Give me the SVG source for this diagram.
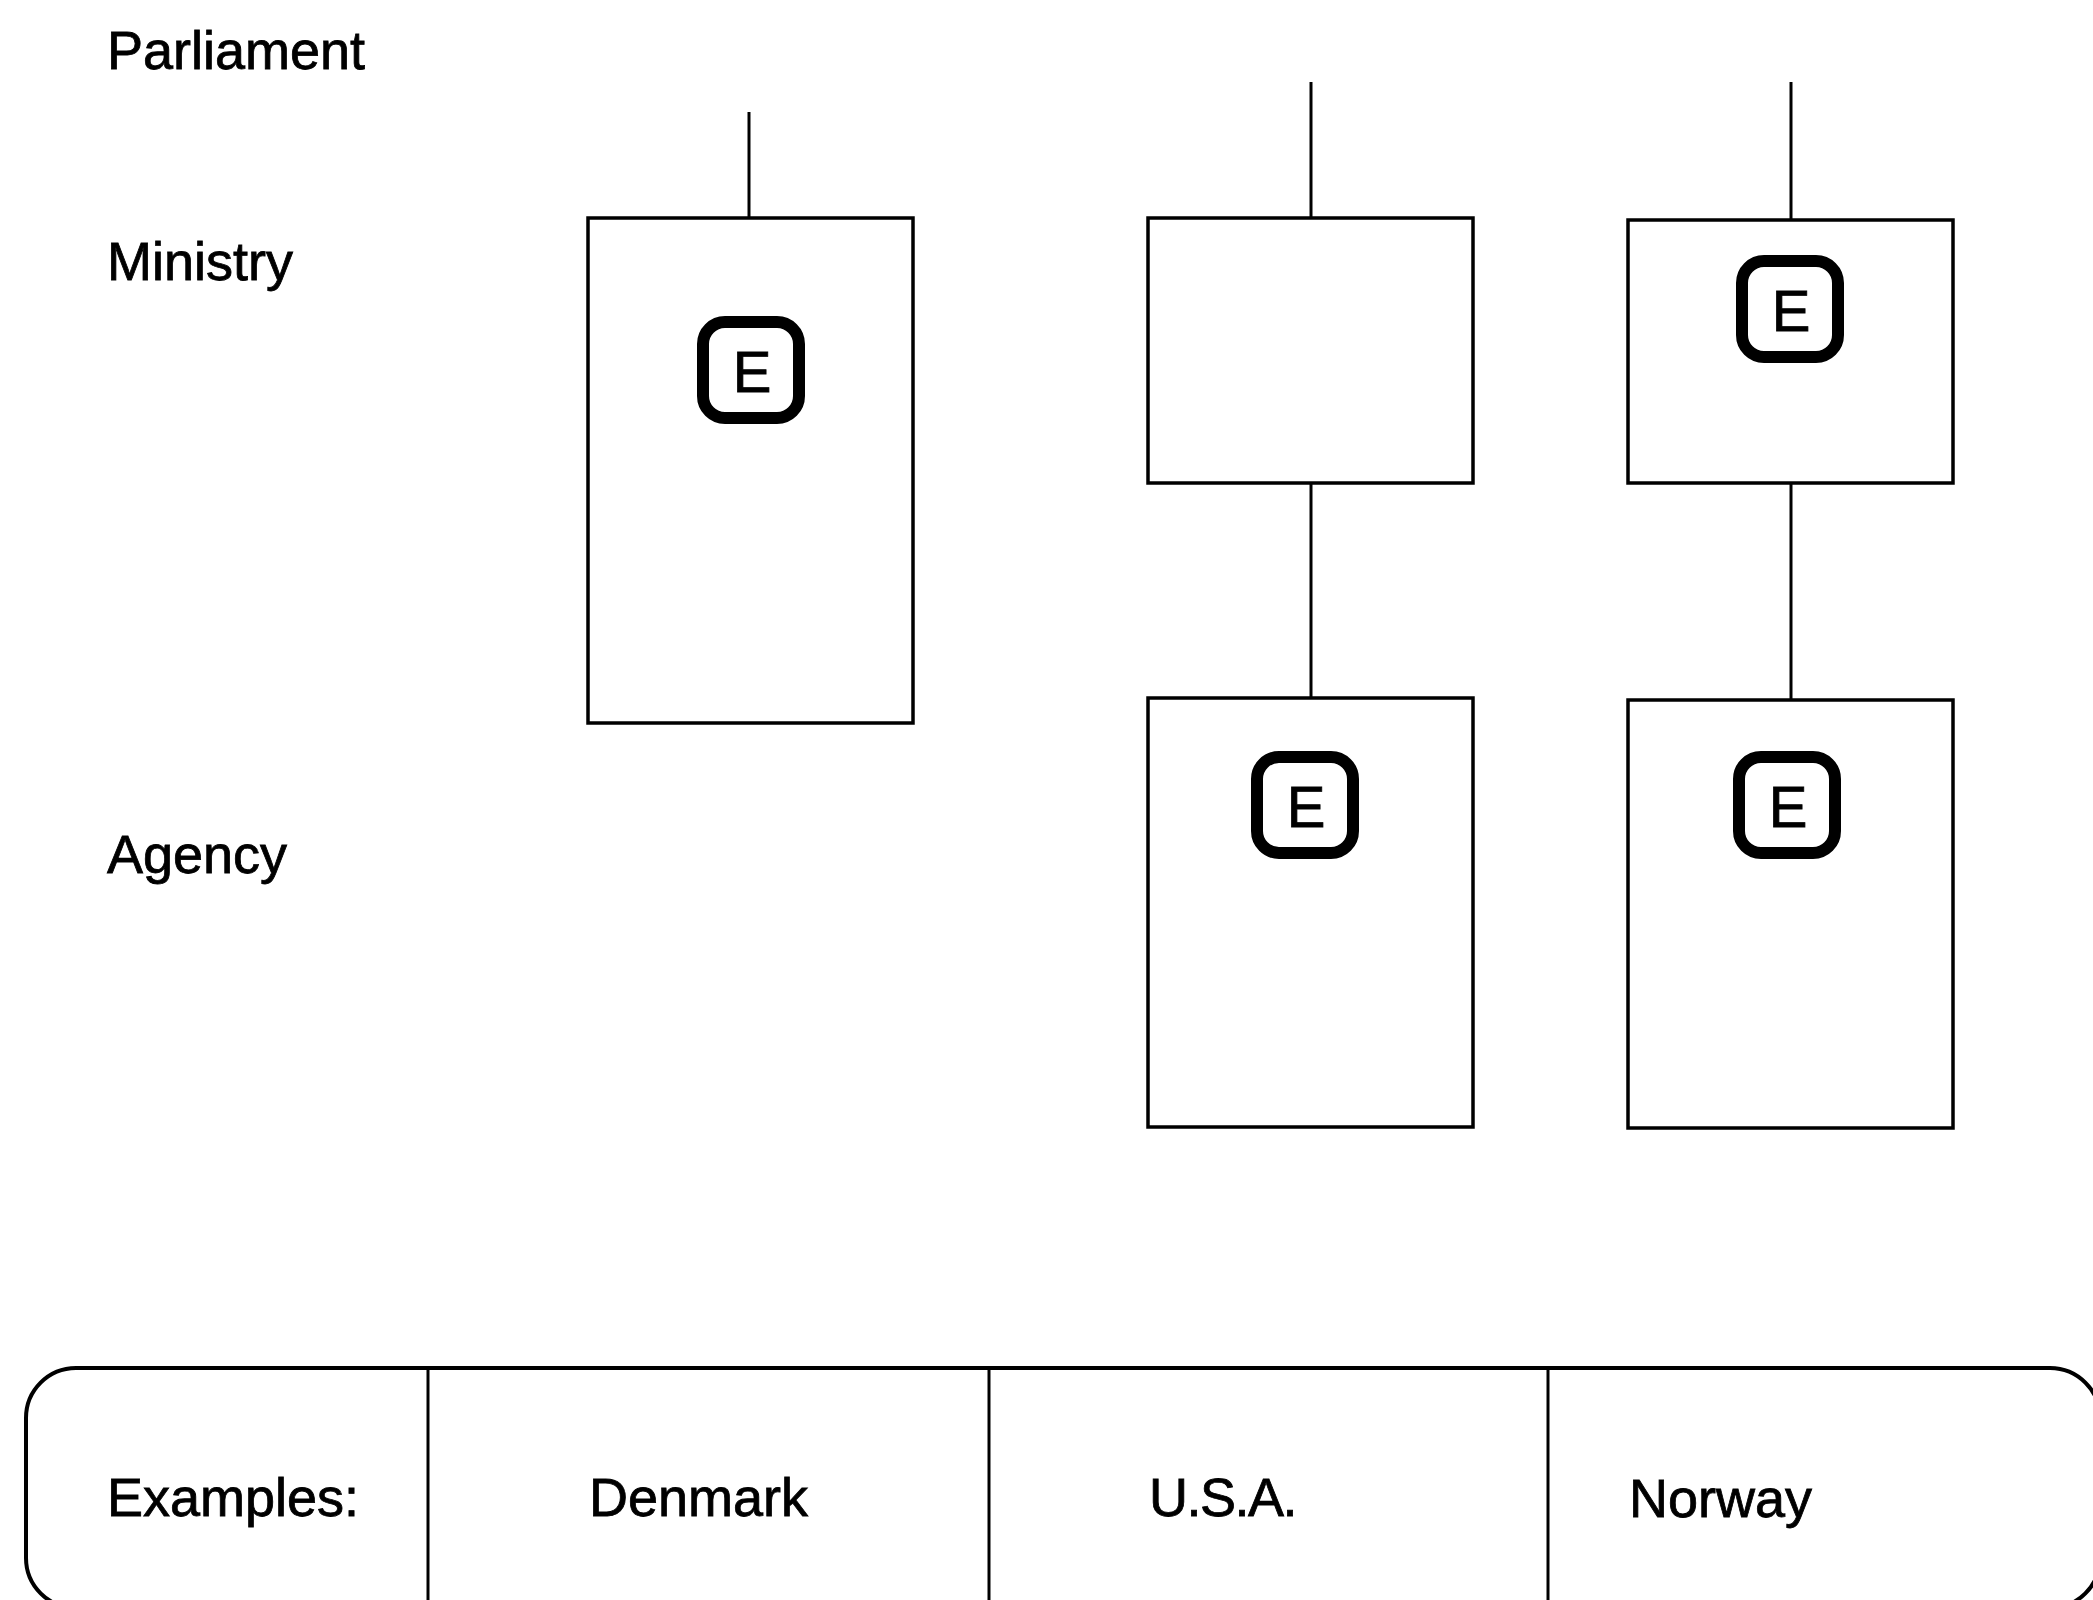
<svg xmlns="http://www.w3.org/2000/svg" width="2093" height="1600" viewBox="0 0 2093 1600">
  <style>
    .lbl { font-family: "Liberation Sans", Arial, sans-serif; font-size: 54px; fill: #000; stroke: #000; stroke-width: 0.8; }
    .box { fill: #fff; stroke: #000; stroke-width: 3.5; }
    .ebox { fill: #fff; stroke: #000; stroke-width: 12; }
    .etxt { font-family: "Liberation Sans", Arial, sans-serif; font-size: 58px; fill: #000; stroke: #000; stroke-width: 0.8; text-anchor: middle; }
    .conn { stroke: #000; stroke-width: 3; fill: none; }
  </style>
  <rect x="0" y="0" width="2093" height="1600" fill="#fff"/>

  <g id="level-labels">
    <text class="lbl" x="107" y="69">Parliament</text>
    <text class="lbl" x="107" y="280">Ministry</text>
    <text class="lbl" x="107" y="873">Agency</text>
  </g>

  <g id="connectors">
    <line class="conn" x1="749" y1="112" x2="749" y2="218"/>
    <line class="conn" x1="1311" y1="82" x2="1311" y2="218"/>
    <line class="conn" x1="1311" y1="483" x2="1311" y2="698"/>
    <line class="conn" x1="1791" y1="82" x2="1791" y2="220"/>
    <line class="conn" x1="1791" y1="483" x2="1791" y2="700"/>
  </g>

  <g id="denmark-ministry">
    <rect class="box" x="588" y="218" width="325" height="505"/>
    <rect class="ebox" x="703" y="322" width="96" height="96" rx="22"/>
    <text class="etxt" x="752" y="392">E</text>
  </g>

  <g id="usa-ministry">
    <rect class="box" x="1148" y="218" width="325" height="265"/>
  </g>

  <g id="usa-agency">
    <rect class="box" x="1148" y="698" width="325" height="429"/>
    <rect class="ebox" x="1257" y="757" width="96" height="96" rx="22"/>
    <text class="etxt" x="1306" y="827">E</text>
  </g>

  <g id="norway-ministry">
    <rect class="box" x="1628" y="220" width="325" height="263"/>
    <rect class="ebox" x="1742" y="261" width="96" height="96" rx="22"/>
    <text class="etxt" x="1791" y="331">E</text>
  </g>

  <g id="norway-agency">
    <rect class="box" x="1628" y="700" width="325" height="428"/>
    <rect class="ebox" x="1739" y="757" width="96" height="96" rx="22"/>
    <text class="etxt" x="1788" y="827">E</text>
  </g>

  <g id="examples-panel">
    <rect x="26" y="1368" width="2074" height="240" rx="50" ry="50" fill="#fff" stroke="#000" stroke-width="4"/>
    <line class="conn" x1="428" y1="1368" x2="428" y2="1600"/>
    <line class="conn" x1="989" y1="1368" x2="989" y2="1600"/>
    <line class="conn" x1="1548" y1="1368" x2="1548" y2="1600"/>
    <text class="lbl" x="107" y="1516">Examples:</text>
    <text class="lbl" x="589" y="1516">Denmark</text>
    <text class="lbl" x="1149" y="1516" letter-spacing="-1.5">U.S.A.</text>
    <text class="lbl" x="1629" y="1517">Norway</text>
  </g>
</svg>
